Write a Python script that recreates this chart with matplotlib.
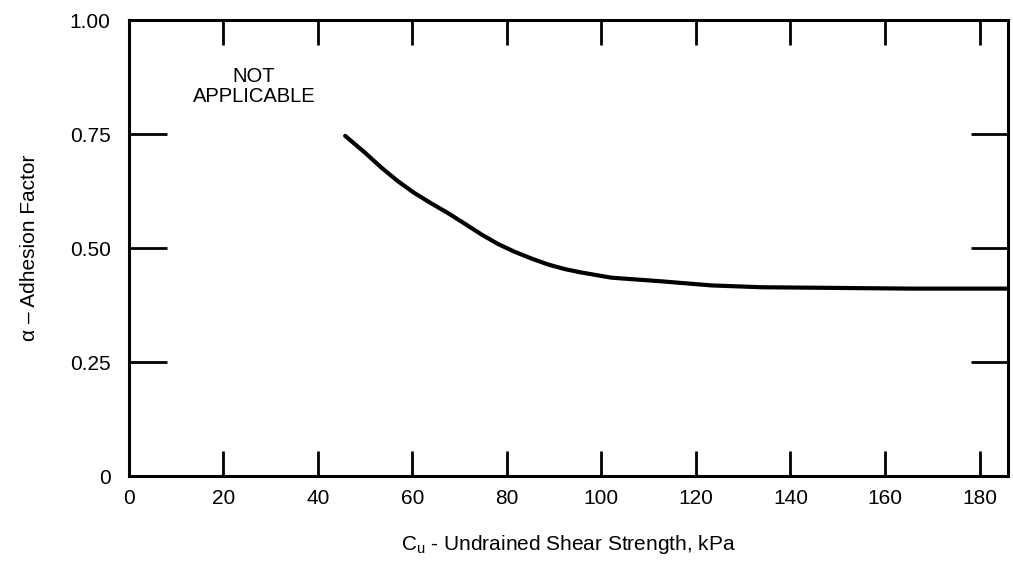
import matplotlib.pyplot as plt

plt.rcParams['font.family'] = ['Liberation Sans', 'DejaVu Sans']

# curve
cu_kpa = [45.8, 49.9, 53.4, 56.9, 60.4, 64.0, 67.5, 71.0, 74.6, 78.1, 81.6, 85.2,
          88.7, 92.2, 95.4, 102.1, 112.7, 123.3, 133.9, 144.5, 155.1, 165.7, 176.3, 186.0]
alpha = [0.746, 0.710, 0.677, 0.647, 0.621, 0.598, 0.577, 0.554, 0.530, 0.509, 0.492, 0.477,
         0.464, 0.454, 0.447, 0.435, 0.427, 0.418, 0.414, 0.413, 0.412, 0.411, 0.411, 0.411]

x_ticks = [0, 20, 40, 60, 80, 100, 120, 140, 160, 180]
y_ticks = [0, 0.25, 0.50, 0.75, 1.00]
y_tick_labels = ['0', '0.25', '0.50', '0.75', '1.00']

fig = plt.figure(figsize=(10.13, 5.65), dpi=100)
ax = fig.add_axes([0.127, 0.1575, 0.868, 0.807])

ax.plot(cu_kpa, alpha, color='black', lw=3, solid_capstyle='round')

ax.set_xlim(0, 186)
ax.set_ylim(0, 1.0)
ax.set_xticks(x_ticks)
ax.set_yticks(y_ticks)
ax.set_yticklabels(y_tick_labels)

for s in ax.spines.values():
    s.set_linewidth(2.2)

ax.tick_params(axis='x', direction='in', top=True, length=18, width=2,
               labelsize=15, pad=9)
ax.tick_params(axis='y', direction='in', right=True, length=27, width=2,
               labelsize=15, pad=13)

ax.text(26.5, 0.855, 'NOT\nAPPLICABLE', ha='center', va='center',
        fontsize=14.5, linespacing=1.05)

ax.set_xlabel('C$_\\mathregular{u}$ - Undrained Shear Strength, kPa', fontsize=15, labelpad=18)
ax.set_ylabel('\u03b1 \u2013 Adhesion Factor', fontsize=15, labelpad=22)

fig.savefig('out.png', dpi=100)
